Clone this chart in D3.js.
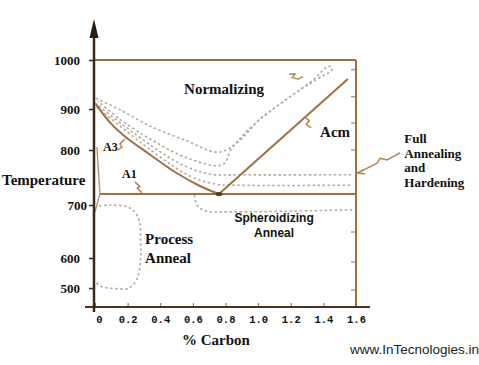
<!DOCTYPE html>
<html><head><meta charset="utf-8">
<script src="https://cdn.jsdelivr.net/npm/d3@7"></script>
<style>html,body{margin:0;padding:0;background:#fff;}svg{display:block;}</style>
</head><body>
<script>
// ---- data (carbon %, temperature °C) ----
const carbonTicks = [0, 0.2, 0.4, 0.6, 0.8, 1.0, 1.2, 1.4, 1.6];
const carbonTickLabels = ["0", "0.2", "0.4", "0.6", "0.8", "1.0", "1.2", "1.4", "1.6"];
const tempTicks = [500, 600, 700, 800, 900, 1000];
const tempTickLabels = ["500", "600", "700", "800", "900", "1000"];
const rightFrameTicks = [980, 925, 866, 800, 649, 587, 493];

const a3Line = [[0.006, 910], [0.09, 868], [0.18, 834], [0.34, 791], [0.49, 760], [0.64, 735], [0.76, 720]];
const acmLine = [[0.76, 720], [1.55, 961]];
const a1Line = [[0.03, 720], [1.6, 720]];
const lowCarbonLine = [[0.012, 807], [0.03, 720], [0.0, 687]];
const normalizingLoop = [[0.006, 922], [0.153, 898], [0.35, 856], [0.552, 824], [0.76, 796], [0.877, 820], [1.018, 878],
  [1.184, 922], [1.35, 963], [1.423, 986], [1.448, 986], [1.45, 978], [1.393, 967], [1.258, 939], [1.086, 898],
  [0.939, 849], [0.84, 805], [0.78, 773], [0.57, 785], [0.35, 824], [0.16, 873], [0.018, 916]];
const fullAnnealUpper = [[0.0, 912], [0.35, 809], [0.55, 771], [0.71, 756], [0.89, 755], [1.58, 755]];
const fullAnnealLower = [[0.01, 904], [0.35, 798], [0.58, 753], [0.74, 738], [0.86, 736], [1.58, 736]];
const spheroidizeCurve = [[0.61, 718], [0.625, 700], [0.675, 689], [0.83, 687], [1.58, 691]];
const processAnnealLoop = [[0.025, 698], [0.09, 700], [0.18, 698], [0.23, 691], [0.27, 672], [0.28, 634], [0.28, 602],
  [0.26, 533], [0.21, 500], [0.12, 498], [0.03, 507], [0.006, 520]];

const pointerA1 = [[0.245, 742], [0.276, 733], [0.258, 731], [0.288, 722]];
const pointerA3 = [[0.14, 800], [0.165, 807], [0.153, 815], [0.184, 827]];
const pointerAcm = [[1.288, 880], [1.313, 871], [1.294, 863], [1.325, 854]];
const pointerNormal = [[1.19, 971], [1.227, 972], [1.209, 964], [1.245, 961], [1.276, 966]];
const pointerFull = [[1.871, 795], [1.791, 782], [1.748, 785], [1.730, 776], [1.669, 767], [1.607, 758]];

const regionLabels = [
  {lines: ["Normalizing"], c: 0.546, t: 931, font: "bold 15px 'Liberation Serif'", anchor: "start"},
  {lines: ["Acm"], c: 1.38, t: 832, font: "bold 15px 'Liberation Serif'", anchor: "start"},
  {lines: ["A3"], c: 0.049, t: 798, font: "bold 12px 'Liberation Serif'", anchor: "start"},
  {lines: ["A1"], c: 0.166, t: 749, font: "bold 12px 'Liberation Serif'", anchor: "start"},
  {lines: ["Process", "Anneal"], c: 0.307, t: 626, font: "bold 15px 'Liberation Serif'", anchor: "start", lh: 19},
  {lines: ["Spheroidizing", "Anneal"], c: 1.098, t: 668, font: "bold 12px 'Liberation Sans'", anchor: "middle", lh: 15},
  {lines: ["Full", "Annealing", "and", "Hardening"], c: 1.896, t: 817, font: "bold 13px 'Liberation Serif'", anchor: "start", lh: 14.7}
];

// ---- drawing ----
const W = 479, H = 365;
const axisY = 307, axisX = 94;
const svg = d3.select("body").append("svg").attr("width", W).attr("height", H);
svg.append("rect").attr("width", W).attr("height", H).attr("fill", "#fff");

const x = d3.scaleLinear().domain([0, 1.6]).range([95, 356]);
const y = d3.scaleLinear().domain(tempTicks).range([288, 258, 205, 150, 109, 60]);

const brown = "#9c7142", dark = "#3c2a18", dots = "#b4aa9a";
const line = d3.line().x(d => x(d[0])).y(d => y(d[1]));
const smooth = d3.line().x(d => x(d[0])).y(d => y(d[1])).curve(d3.curveCatmullRom.alpha(0.5));

// dotted regions
[normalizingLoop, fullAnnealUpper, fullAnnealLower, spheroidizeCurve, processAnnealLoop].forEach(arr => {
  svg.append("path").attr("d", smooth(arr)).attr("fill", "none").attr("stroke", dots)
    .attr("stroke-width", 1.6).attr("stroke-dasharray", "2.5,2.5");
});

// frame
svg.append("path").attr("d", line([[0, 1000], [1.6, 1000]])).attr("stroke", brown).attr("stroke-width", 2).attr("fill", "none");
svg.append("line").attr("x1", x(1.6)).attr("x2", x(1.6)).attr("y1", y(1000)).attr("y2", axisY)
  .attr("stroke", brown).attr("stroke-width", 2);
svg.selectAll(".rt").data(rightFrameTicks).enter().append("line")
  .attr("x1", x(1.6) - 5).attr("x2", x(1.6)).attr("y1", d => y(d)).attr("y2", d => y(d))
  .attr("stroke", brown).attr("stroke-width", 1);

// phase boundaries
svg.append("path").attr("d", line(a1Line)).attr("stroke", brown).attr("stroke-width", 2).attr("fill", "none");
svg.append("path").attr("d", smooth(a3Line)).attr("stroke", brown).attr("stroke-width", 2).attr("fill", "none");
svg.append("path").attr("d", line(acmLine)).attr("stroke", brown).attr("stroke-width", 2).attr("fill", "none");
svg.append("path").attr("d", line(lowCarbonLine)).attr("stroke", "#b8946a").attr("stroke-width", 1.4).attr("fill", "none");
svg.append("ellipse").attr("cx", x(0.76)).attr("cy", y(720)).attr("rx", 3.5).attr("ry", 2).attr("fill", "#5a3a1c");

// pointers
[pointerA1, pointerA3, pointerAcm, pointerNormal, pointerFull].forEach(arr => {
  svg.append("path").attr("d", line(arr)).attr("fill", "none").attr("stroke", "#b0864e")
    .attr("stroke-width", 1.5).attr("stroke-linejoin", "round");
});
// arrow head for full annealing pointer
const tip = pointerFull[pointerFull.length - 1];
svg.append("path").attr("d", line([[tip[0] + 0.04, tip[1] + 6], tip, [tip[0] + 0.05, tip[1] - 1]]))
  .attr("fill", "none").attr("stroke", "#b0864e").attr("stroke-width", 1.5);

// axes
const yAxis = d3.axisLeft(y).tickValues(tempTicks).tickFormat((d, i) => tempTickLabels[i]).tickSize(5).tickPadding(10);
const gy = svg.append("g").attr("transform", `translate(${axisX},0)`).call(yAxis);
gy.select(".domain").remove();
gy.selectAll(".tick line").attr("stroke", dark).attr("stroke-width", 1.5);
gy.selectAll(".tick text").style("font", "bold 13px 'Liberation Serif'").attr("fill", "#111")
  .attr("x", d => d === 700 ? -7 : -14);

const xAxis = d3.axisBottom(x).tickValues(carbonTicks).tickFormat((d, i) => carbonTickLabels[i])
  .tickSizeInner(-4).tickSizeOuter(0).tickPadding(9);
const gx = svg.append("g").attr("transform", `translate(0,${axisY})`).call(xAxis);
gx.select(".domain").remove();
gx.selectAll(".tick line").attr("stroke", "#8a6a45").attr("stroke-width", 1);
gx.selectAll(".tick text").style("font", "bold 10.5px 'Liberation Mono'").attr("fill", "#111")
  .attr("dx", d => d === 0 ? 4 : 0);

svg.append("line").attr("x1", 85).attr("x2", 370).attr("y1", axisY).attr("y2", axisY)
  .attr("stroke", "#4a3520").attr("stroke-width", 2);
svg.append("line").attr("x1", axisX).attr("x2", axisX).attr("y1", 312).attr("y2", 30)
  .attr("stroke", dark).attr("stroke-width", 2.5);
svg.append("path").attr("d", `M${axisX},19L${axisX - 4.5},38L${axisX + 4.5},38Z`).attr("fill", "#2a1c10");

// axis titles
svg.append("text").attr("x", 2).attr("y", 185).text("Temperature")
  .style("font", "bold 15px 'Liberation Serif'").attr("fill", "#111");
svg.append("text").attr("x", 216).attr("y", 345).attr("text-anchor", "middle").text("% Carbon")
  .style("font", "bold 15px 'Liberation Serif'").attr("fill", "#111");

// region labels
regionLabels.forEach(l => {
  const t = svg.append("text").attr("x", x(l.c)).attr("y", y(l.t)).attr("text-anchor", l.anchor)
    .style("font", l.font).attr("fill", "#111");
  l.lines.forEach((s, i) => t.append("tspan").attr("x", x(l.c)).attr("dy", i === 0 ? 0 : l.lh).text(s));
});

svg.append("text").attr("x", 350).attr("y", 354).text("www.InTecnologies.in")
  .style("font", "13.5px 'Liberation Sans'").attr("fill", "#222");
</script>
</body></html>
